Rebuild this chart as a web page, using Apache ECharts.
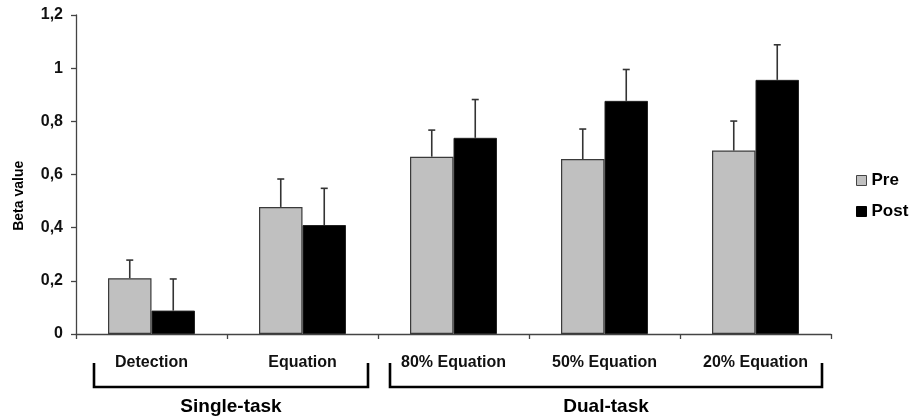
<!DOCTYPE html>
<html>
<head>
<meta charset="utf-8">
<script src="https://cdn.jsdelivr.net/npm/echarts@6/dist/echarts.min.js"></script>
<style>html,body{margin:0;padding:0;background:#fff;}#c{width:912px;height:419px;}</style>
</head>
<body>
<div id="c"></div>
<script>
const categories = ['Detection', 'Equation', '80% Equation', '50% Equation', '20% Equation'];
const preValues = [0.21, 0.478, 0.667, 0.658, 0.69];
const postValues = [0.088, 0.41, 0.738, 0.877, 0.956];
const preErrTop = [0.278, 0.583, 0.767, 0.771, 0.801];
const postErrTop = [0.207, 0.548, 0.882, 0.995, 1.088];
const groups = [
  { name: 'Single-task', from: 0, to: 1 },
  { name: 'Dual-task', from: 2, to: 4 }
];
const yTicks = { min: 0, max: 1.2, interval: 0.2 };

const FONT = '"Liberation Sans", Arial, sans-serif';
const chart = echarts.init(document.getElementById('c'), null, { renderer: 'canvas' });

const BAR_FRAC = 0.288; // bar width as fraction of category band
function errSeries(name, vals, tops, side) {
  return {
    type: 'custom',
    name: name + ' err',
    silent: true,
    z: 5,
    data: vals.map((v, i) => [i, v, tops[i]]),
    renderItem: function (params, api) {
      const band = api.size([1, 0])[0];
      const off = side * band * BAR_FRAC / 2;
      const p0 = api.coord([api.value(0), api.value(1)]);
      const p1 = api.coord([api.value(0), api.value(2)]);
      const x = p0[0] + off;
      const st = { stroke: '#333', lineWidth: 1.6 };
      return {
        type: 'group',
        children: [
          { type: 'line', shape: { x1: x, y1: p0[1], x2: x, y2: p1[1] }, style: st },
          { type: 'line', shape: { x1: x - 3.5, y1: p1[1], x2: x + 3.5, y2: p1[1] }, style: st }
        ]
      };
    }
  };
}

chart.setOption({
  animation: false,
  backgroundColor: '#fff',
  grid: { left: 76, right: 81, top: 15, bottom: 85, containLabel: false },
  legend: {
    orient: 'vertical',
    left: 851,
    top: 167,
    itemWidth: 10,
    itemHeight: 10,
    itemGap: 14,
    data: [
      { name: 'Pre', icon: 'rect', itemStyle: { color: '#c0c0c0', borderColor: '#444', borderWidth: 1 } },
      { name: 'Post', icon: 'rect', itemStyle: { color: '#000', borderColor: '#000', borderWidth: 1 } }
    ],
    textStyle: { fontFamily: FONT, fontWeight: 'bold', fontSize: 17, color: '#000' }
  },
  xAxis: {
    type: 'category',
    data: categories,
    axisLine: { lineStyle: { color: '#444', width: 1.3 } },
    axisTick: { show: true, length: 5, lineStyle: { color: '#444', width: 1.3 } },
    axisLabel: { margin: 21, fontFamily: FONT, fontWeight: 'bold', fontSize: 16, color: '#111', interval: 0 },
    splitLine: { show: false }
  },
  yAxis: {
    type: 'value',
    min: yTicks.min,
    max: yTicks.max,
    interval: yTicks.interval,
    axisLine: { show: true, lineStyle: { color: '#444', width: 1.3 } },
    axisTick: { show: true, length: 5, lineStyle: { color: '#444', width: 1.3 } },
    splitLine: { show: false },
    axisLabel: {
      margin: 13,
      fontFamily: FONT, fontWeight: 'bold', fontSize: 16, color: '#111',
      formatter: v => String(Math.round(v * 10) / 10).replace('.', ',')
    }
  },
  series: [
    {
      name: 'Pre', type: 'bar', data: preValues, barGap: '0%', barCategoryGap: '42.4%',
      itemStyle: { color: '#c0c0c0', borderColor: '#3a3a3a', borderWidth: 1.2 }
    },
    {
      name: 'Post', type: 'bar', data: postValues, barGap: '0%', barCategoryGap: '42.4%',
      itemStyle: { color: '#000', borderColor: '#222', borderWidth: 1 }
    },
    errSeries('Pre', preValues, preErrTop, -1),
    errSeries('Post', postValues, postErrTop, 1)
  ]
});

function drawAnnotations() {
  const c0 = chart.convertToPixel({ xAxisIndex: 0 }, categories[0]);
  const c1 = chart.convertToPixel({ xAxisIndex: 0 }, categories[1]);
  const band = c1 - c0;
  const y0 = chart.convertToPixel({ yAxisIndex: 0 }, 0);
  const boundary = i => c0 - band / 2 + i * band;
  const elements = [];
  groups.forEach((g, gi) => {
    const left = boundary(g.from) + (gi === 0 ? 18 : 12);
    const right = boundary(g.to + 1) - (gi === 0 ? 10 : 9);
    const top = y0 + 29, bot = y0 + 53;
    elements.push({
      type: 'polyline',
      shape: { points: [[left, top], [left, bot], [right, bot], [right, top]] },
      style: { stroke: '#000', lineWidth: 2.6, fill: null }
    });
    elements.push({
      type: 'text',
      x: (left + right) / 2,
      y: y0 + 73,
      style: { text: g.name, fontFamily: FONT, fontWeight: 'bold', fontSize: 19, fill: '#000', align: 'center', verticalAlign: 'middle' }
    });
  });
  const yMid = chart.convertToPixel({ yAxisIndex: 0 }, 0.52);
  elements.push({
    type: 'text',
    x: 19, y: yMid,
    rotation: Math.PI / 2,
    style: { text: 'Beta value', fontFamily: FONT, fontWeight: 'bold', fontSize: 14, fill: '#000', align: 'center', verticalAlign: 'middle' }
  });
  chart.setOption({ graphic: { elements: elements } });
}
drawAnnotations();
</script>
</body>
</html>
